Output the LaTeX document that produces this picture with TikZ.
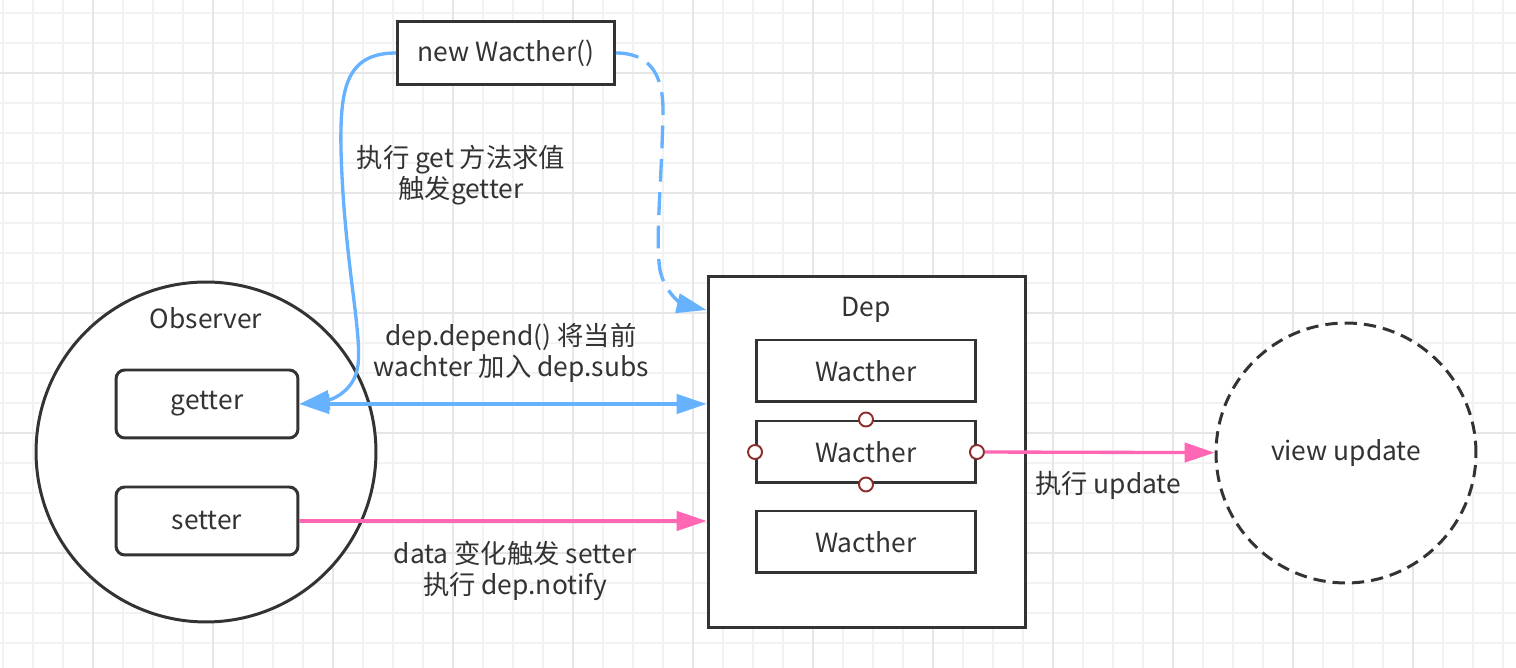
\documentclass[tikz,border=0pt]{standalone}
\usepackage{fontspec}
\setmainfont{Noto Sans CJK SC}
\usetikzlibrary{arrows.meta}
\definecolor{vien}{HTML}{333333}
\definecolor{xanh}{HTML}{66B2FF}
\definecolor{hong}{HTML}{FF66B3}
\definecolor{do}{HTML}{8B2E2E}
\definecolor{luoinho}{HTML}{F2F2F2}
\definecolor{luoilon}{HTML}{E6E6E6}
\begin{document}
\begin{tikzpicture}[x=.02cm,y=-.02cm,font=\fontsize{15}{17.6}\selectfont,text=vien,
            hop/.style={draw=vien,line width=1.7pt,fill=white,minimum width=4.38cm,minimum height=1.24cm},
            tron/.style={circle,draw=vien,line width=1.7pt,fill=white},
            cham/.style={circle,draw=do,fill=white,line width=1.1pt,inner sep=0pt,minimum size=.28cm},
            mui/.style={-{Triangle[length=17pt,width=11pt]},line width=1.9pt}]
            \fill[white] (0,0) rectangle (1516,668);
            \useasboundingbox (0,0) rectangle (1516,668);
            % <<< luoi nen
            \foreach \i in {0,...,50} \draw[luoinho,line width=.8pt] (3+30*\i,0)--(3+30*\i,668);
            \foreach \j in {0,...,21} \draw[luoinho,line width=.8pt] (0,13+30*\j)--(1516,13+30*\j);
            \foreach \i in {0,...,11} \draw[luoilon,line width=.8pt] (93+120*\i,0)--(93+120*\i,668);
            \foreach \j in {0,...,4} \draw[luoilon,line width=.8pt] (0,73+120*\j)--(1516,73+120*\j);
            % <<< cac khoi
            \node[hop,minimum width=4.34cm,minimum height=1.26cm] (nw) at (506,53) {new Wacther()};
            \node[tron,minimum size=6.8cm] (ob) at (206,452) {};
            \node (obt) at (206,318) {Observer};
            \node[hop,rounded corners=5pt,minimum width=3.64cm,minimum height=1.36cm] (g) at (207,404) {getter};
            \node[hop,rounded corners=5pt,minimum width=3.64cm,minimum height=1.36cm] (s) at (207,521) {setter};
            \node[hop,minimum width=6.36cm,minimum height=7.04cm] (dep) at (867,452) {};
            \node (dept) at (866,310) {Dep};
            \node[hop] (w1) at (866,371) {Wacther};
            \node[hop] (w2) at (866,452) {Wacther};
            \node[hop] (w3) at (866,542) {Wacther};
            \node[tron,dashed,dash pattern=on 7pt off 4pt,minimum size=5.2cm] (vu) at (1346,453) {view update};
            % <<< nhan
            \node[align=center] (l1) at (461,175) {执行 get 方法求值\\触发getter};
            \node[align=center] (l2) at (511,353) {dep.depend() 将当前\\wachter 加入 dep.subs};
            \node[align=center] (l3) at (515,571) {data 变化触发 setter\\执行 dep.notify};
            \node (l4) at (1108,485) {执行 update};
            % <<< mui ten
            \draw[mui,xanh] (nw.west) .. controls (345,53) and (340,90) .. (341,150)
                .. controls (344,260) and (362,330) .. (358,365)
                .. controls (355,392) and (330,400) .. (g.east);
            \draw[mui,xanh,{Triangle[length=17pt,width=11pt]}-{Triangle[length=17pt,width=11pt]}] (g.east) -- (g.east -| dep.west);
            \draw[mui,xanh,dash pattern=on 13pt off 6pt] (nw.east) .. controls (650,53) and (663,75) .. (663,110)
                .. controls (662,180) and (655,240) .. (660,270)
                .. controls (665,295) and (685,305) .. (dept -| dep.west);
            \draw[mui,hong] (s.east) -- (s.east -| dep.west);
            \foreach \p/\n in {north/w2n,south/w2s,west/w2w,east/w2e}
                \node[cham] (\n) at (w2.\p) {};
            \draw[mui,hong] (w2e) -- (vu);
        \end{tikzpicture}
\end{document}
